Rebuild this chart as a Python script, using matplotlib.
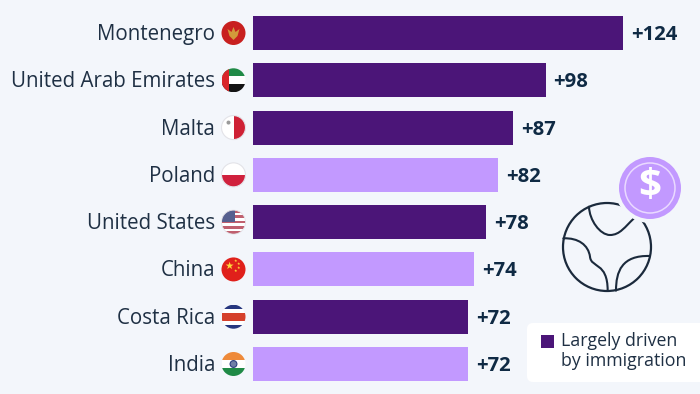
import matplotlib
matplotlib.use("Agg")
import matplotlib.pyplot as plt
import numpy as np
from matplotlib.patches import Circle, Rectangle, FancyBboxPatch, PathPatch, Arc, Polygon
from matplotlib.path import Path

plt.rcParams['font.family'] = ['Open Sans', 'DejaVu Sans']

countries = ["Montenegro", "United Arab Emirates", "Malta", "Poland",
             "United States", "China", "Costa Rica", "India"]
values = [124, 98, 87, 82, 78, 74, 72, 72]
immigration = [True, True, True, False, True, False, True, False]
legend_lines = ["Largely driven", "by immigration"]

BG = "#f3f6fb"
DARK = "#4b1578"
LIGHT = "#c299ff"
TEXT = "#1f3044"
VALUE = "#0f2a44"
INK = "#1b2a3c"

fig = plt.figure(figsize=(7, 3.94), dpi=100, facecolor=BG)

# main axes, 0 of the scale sits at px 253, rows from 33 to 364 px
ax = fig.add_axes([0, 0, 1, 1], facecolor="none")
px_per_unit = 2.985
row_px = (364 - 33) / 7
ax.set_xlim(-253 / px_per_unit, 447 / px_per_unit)
ax.set_ylim((394 - 33) / row_px, -33 / row_px)
ax.axis("off")

y = np.arange(len(countries))
colors = [DARK if f else LIGHT for f in immigration]
ax.barh(y, values, height=0.72, color=colors, linewidth=0)

for i, (name, v) in enumerate(zip(countries, values)):
    ax.annotate(name, (0, i), xytext=(-38, -1.5), textcoords="offset pixels",
                ha="right", va="center", fontsize=14.8, color=TEXT)
    ax.annotate("+%d" % v, (v, i), xytext=(8, -2), textcoords="offset pixels",
                ha="left", va="center", fontsize=14.6, fontweight="bold", color=VALUE)

# overlay in pixel coordinates for the flags, icon and legend
ov = fig.add_axes([0, 0, 1, 1], facecolor="none")
ov.set_xlim(0, 700)
ov.set_ylim(394, 0)
ov.axis("off")

FLAG_X = 233.5
FLAG_R = 12


def stripes(cy, rows):
    # rows: list of (top fraction, bottom fraction, colour) over the flag height
    clip = Circle((FLAG_X, cy), FLAG_R, transform=ov.transData)
    for top, bottom, col in rows:
        r = Rectangle((FLAG_X - FLAG_R, cy - FLAG_R + top * 2 * FLAG_R), 2 * FLAG_R,
                      (bottom - top) * 2 * FLAG_R, color=col, lw=0, zorder=3)
        ov.add_patch(r)
        r.set_clip_path(clip)
    return clip


def add_clipped(patch, clip):
    patch.set_zorder(4)
    ov.add_patch(patch)
    patch.set_clip_path(clip)


def row_y(i):
    return 33 + i * row_px


# Montenegro
cy = row_y(0)
ov.add_patch(Circle((FLAG_X, cy), FLAG_R, color="#c8201f", lw=0, zorder=3))
ov.add_patch(Polygon([(FLAG_X - 6, cy - 4), (FLAG_X - 2, cy - 1), (FLAG_X, cy - 6), (FLAG_X + 2, cy - 1),
                      (FLAG_X + 6, cy - 4), (FLAG_X + 4, cy + 3), (FLAG_X, cy + 7), (FLAG_X - 4, cy + 3)],
                     color="#d29a3a", lw=0, zorder=4))

# UAE
cy = row_y(1)
clip = stripes(cy, [(0, 0.34, "#1f8a46"), (0.34, 0.67, "#ffffff"), (0.67, 1, "#141414")])
add_clipped(Rectangle((FLAG_X - FLAG_R, cy - FLAG_R), 7, 2 * FLAG_R, color="#d8262a", lw=0), clip)

# Malta
cy = row_y(2)
clip = stripes(cy, [(0, 1, "#ffffff")])
add_clipped(Rectangle((FLAG_X, cy - FLAG_R), FLAG_R, 2 * FLAG_R, color="#cf2135", lw=0), clip)
ov.add_patch(Circle((FLAG_X - 5, cy - 5), 2, color="#9a9a9a", lw=0, zorder=5))
ov.add_patch(Circle((FLAG_X, cy), FLAG_R, fc="none", ec="#e3e3e8", lw=0.8, zorder=5))

# Poland
cy = row_y(3)
stripes(cy, [(0, 0.5, "#ffffff"), (0.5, 1, "#d0213d")])
ov.add_patch(Circle((FLAG_X, cy), FLAG_R, fc="none", ec="#e3e3e8", lw=0.8, zorder=5))

# United States
cy = row_y(4)
n_st = 9
clip = stripes(cy, [(k / n_st, (k + 1) / n_st, "#c0606f" if k % 2 == 0 else "#ffffff") for k in range(n_st)])
add_clipped(Rectangle((FLAG_X - FLAG_R, cy - FLAG_R), 13, 12, color="#56608f", lw=0), clip)
ov.add_patch(Circle((FLAG_X, cy), FLAG_R, fc="none", ec="#e3e3e8", lw=0.6, zorder=5))

# China
cy = row_y(5)
ov.add_patch(Circle((FLAG_X, cy), FLAG_R, color="#e0201b", lw=0, zorder=3))
ov.text(FLAG_X - 5, cy - 3.5, "\u2605", color="#ffd83a", fontsize=7.5, ha="center", va="center",
        family="DejaVu Sans", zorder=5)
for dx, dy in [(2, -8), (5, -5), (5, -1), (2, 2)]:
    ov.text(FLAG_X + dx, cy + dy, "\u2605", color="#ffd83a", fontsize=2.8, ha="center", va="center",
            family="DejaVu Sans", zorder=5)

# Costa Rica
cy = row_y(6)
stripes(cy, [(0, 0.17, "#26377f"), (0.17, 0.33, "#ffffff"), (0.33, 0.67, "#d5402b"),
             (0.67, 0.83, "#ffffff"), (0.83, 1, "#26377f")])

# India
cy = row_y(7)
stripes(cy, [(0, 0.33, "#ee8a3a"), (0.33, 0.67, "#ffffff"), (0.67, 1, "#1f8a46")])
ov.add_patch(Circle((FLAG_X, cy), 3.4, fc="#6f7fa6", ec="#2c3f7f", lw=0.8, zorder=5))


# globe icon
def zp(x, y):
    return (510 + x / 3, 140 + y / 3)


def curve(points):
    codes = [Path.MOVETO] + [Path.CURVE4] * (len(points) - 1)
    ov.add_patch(PathPatch(Path([zp(*p) for p in points], codes), fc="none", ec=INK,
                           lw=1.5, capstyle="round", zorder=3))


ov.add_patch(Circle((607, 247), 44, fc="none", ec=INK, lw=1.6, zorder=2))
curve([(237, 200), (238, 240), (270, 285), (300, 285),
       (330, 285), (345, 260), (372, 235)])
curve([(160, 295), (205, 293), (235, 315), (240, 350),
       (243, 385), (293, 365), (293, 452)])
curve([(318, 452), (318, 395), (335, 345), (420, 348)])

# coin
ov.add_patch(Circle((650, 188), 35, fc=BG, lw=0, zorder=5))
ov.add_patch(Circle((650, 188), 31, fc=LIGHT, lw=0, zorder=6))
ov.add_patch(Arc((650, 188), 50, 50, theta1=0, theta2=360, ec="#ead9ff", lw=1.1, zorder=7))
ov.text(650, 186.5, "\\$", color="white", fontsize=29, fontweight="bold", ha="center", va="center", zorder=8)

# legend
ov.add_patch(FancyBboxPatch((527, 323), 190, 59, boxstyle="round,pad=0,rounding_size=6",
                            fc="white", lw=0, zorder=2))
ov.add_patch(Rectangle((541, 335), 13, 12.5, color=DARK, lw=0, zorder=3))
for k, line in enumerate(legend_lines):
    ov.text(561, 341.5 + k * 20, line, fontsize=12.8, color=TEXT, ha="left", va="center", zorder=3)

fig.savefig("out.png", dpi=100, facecolor=BG)
